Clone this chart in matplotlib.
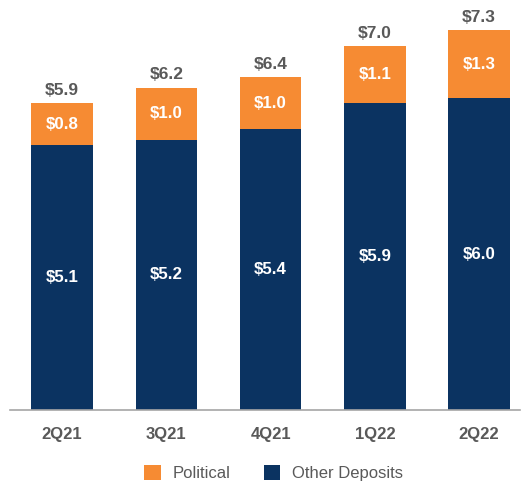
import numpy as np
import matplotlib.pyplot as plt

# datos del gráfico
quarters = ['2Q21', '3Q21', '4Q21', '1Q22', '2Q22']
other_deposits = [5.1, 5.2, 5.4, 5.9, 6.0]
political = [0.8, 1.0, 1.0, 1.1, 1.3]
totals = [5.9, 6.2, 6.4, 7.0, 7.3]

orange = '#F68B33'
navy = '#0B3361'
gray_txt = '#595959'

plt.rcParams['font.family'] = ['Liberation Sans', 'DejaVu Sans']

fig = plt.figure(figsize=(5.24, 4.87), dpi=100)
ax = fig.add_axes([0.019, 0.158, 0.973, 0.833])

x = np.arange(len(quarters))
w = 0.59
b1 = ax.bar(x, other_deposits, w, color=navy, label='Other Deposits', zorder=2)
b2 = ax.bar(x, political, w, bottom=other_deposits, color=orange, label='Political', zorder=2)

for i in range(len(quarters)):
    ax.text(x[i], other_deposits[i] / 2, f'${other_deposits[i]:.1f}', ha='center', va='center',
            color='white', fontsize=12.2, fontweight='bold')
    ax.text(x[i], other_deposits[i] + political[i] / 2, f'${political[i]:.1f}', ha='center', va='center',
            color='white', fontsize=12.2, fontweight='bold')
    ax.text(x[i], totals[i] + 0.1, f'${totals[i]:.1f}', ha='center', va='bottom',
            color=gray_txt, fontsize=12.5, fontweight='bold')

ax.set_xlim(-0.5, 4.39)
ax.set_ylim(0, 7.8)
for s in ['top', 'right', 'left']:
    ax.spines[s].set_visible(False)
ax.spines['bottom'].set_color('#A6A6A6')
ax.spines['bottom'].set_linewidth(1.2)
ax.set_yticks([])
ax.set_xticks(x)
ax.set_xticklabels(quarters, fontsize=12, fontweight='bold', color=gray_txt)
ax.tick_params(axis='x', length=0, pad=12)

leg = fig.legend(handles=[b2, b1], labels=['Political', 'Other Deposits'], loc='center',
                 bbox_to_anchor=(0.522, 0.028), ncol=2, frameon=False, fontsize=12,
                 handlelength=1.0, handleheight=1.0, columnspacing=2.0, handletextpad=0.7)
for t in leg.get_texts():
    t.set_color(gray_txt)

fig.savefig('out.png', dpi=100)
